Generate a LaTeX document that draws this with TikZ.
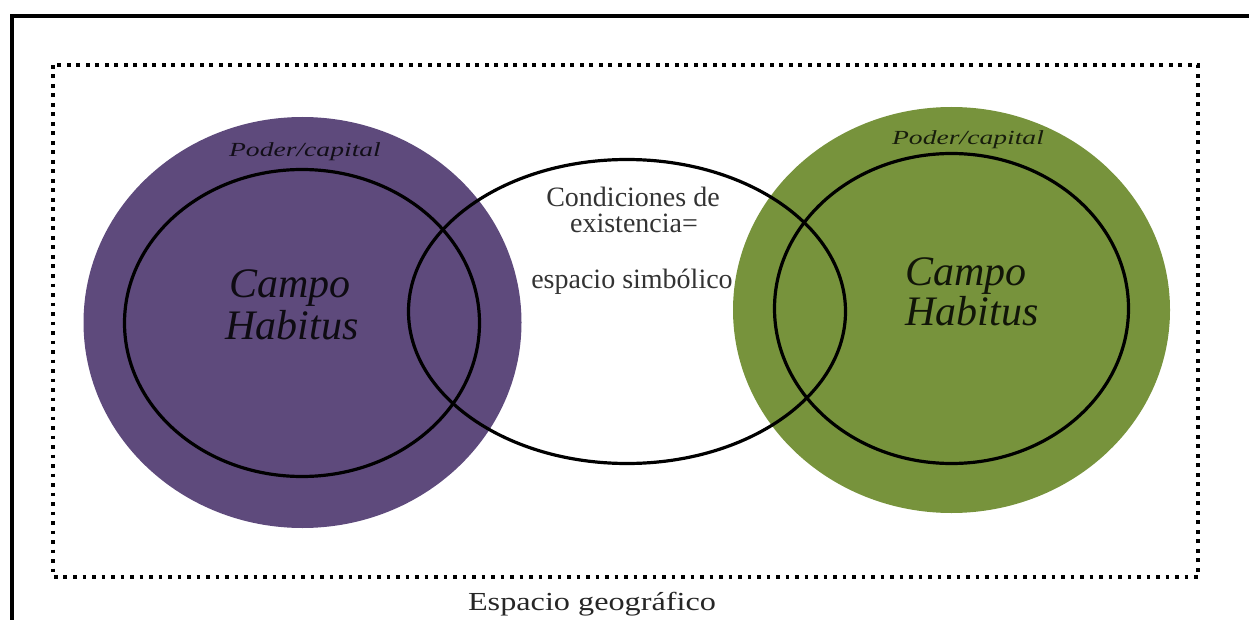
\documentclass[tikz,border=0pt]{standalone}
\usepackage{fontspec}
\setmainfont{Liberation Serif}
\usetikzlibrary{shapes.geometric}
\definecolor{pcol}{HTML}{5E4A7C}
\definecolor{gcol}{HTML}{77933C}
\tikzset{
  ring/.style={ellipse, draw=black, line width=3.2pt, inner sep=0pt, outer sep=0pt},
  disc/.style={ellipse, inner sep=0pt, outer sep=0pt},
  smalllab/.style={anchor=base, inner sep=0pt, font=\fontsize{20}{22}\selectfont\itshape, text=black, text opacity=0.8, xscale=1.38},
  biglab/.style={anchor=base, inner sep=0pt, font=\fontsize{42}{44}\selectfont\itshape, text=black, text opacity=0.85},
  midlab/.style={anchor=base, inner sep=0pt, font=\fontsize{28}{30}\selectfont, text=black!80},
}
\begin{document}
\begin{tikzpicture}[x=1pt,y=-1pt]
\useasboundingbox (0,0) rectangle (1249,620);
% outer frame
\coordinate (fa) at (12,620);
\coordinate (fb) at (12,16);
\coordinate (fc) at (1249,16);
\draw[line width=4pt] (fa) -- (fb) -- (fc);
% dotted frame
\draw[line width=3.8pt, dash pattern=on 3.8pt off 5.7pt] (53,65) rectangle (1198,577);
% discs
\node[disc, fill=pcol, minimum width=438pt, minimum height=411pt] (pd) at (302.5,322.5) {};
\node[disc, fill=gcol, minimum width=437pt, minimum height=406pt] (gd) at (951.5,310) {};
% rings
\node[ring, minimum width=355pt, minimum height=307pt] (pr) at (302,323) {};
\node[ring, minimum width=354pt, minimum height=310pt] (gr) at (951.5,308.5) {};
\node[ring, minimum width=437pt, minimum height=304pt] (mr) at (627,311.5) {};
% texts
\node[smalllab] (pp) at (305,157) {Poder/capital};
\node[smalllab] (gp) at (968,145) {Poder/capital};
\node[biglab] (pc) at (290,297) {Campo};
\node[biglab] (ph) at (292,339) {Habitus};
\node[biglab] (gc) at (966,285) {Campo};
\node[biglab] (gh) at (972,325) {Habitus};
\node[midlab] (m1) at (633,207) {Condiciones de};
\node[midlab] (m2) at (634,233) {existencia=};
\node[midlab] (m3) at (632,288) {espacio simbólico};
\node[anchor=base, inner sep=0pt, font=\fontsize{26}{28}\selectfont, text=black!85, xscale=1.24] (eg) at (592,610) {Espacio geográfico};
\end{tikzpicture}
\end{document}
